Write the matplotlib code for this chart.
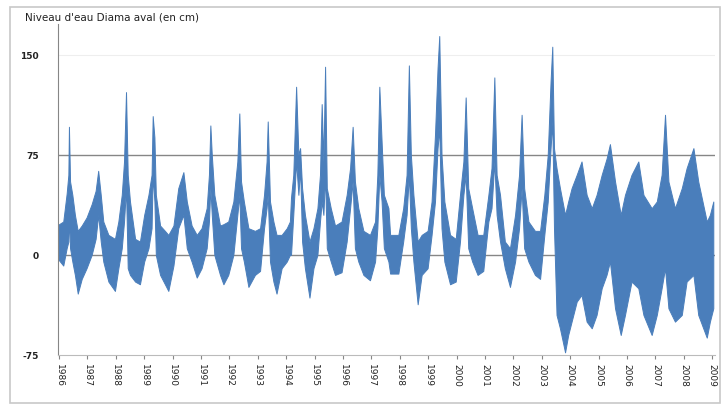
import matplotlib.pyplot as plt
from matplotlib.patches import Rectangle

# decimal year, lower and upper edge of the daily band (cm)
t = [1986.00, 1986.15, 1986.27, 1986.33, 1986.35, 1986.39, 1986.47, 1986.56, 1986.66, 1986.80,
     1986.97, 1987.15, 1987.29, 1987.38, 1987.47, 1987.56, 1987.74, 1987.97, 1988.09, 1988.21,
     1988.29, 1988.36, 1988.42, 1988.50, 1988.68, 1988.85, 1989.00, 1989.15, 1989.26, 1989.30,
     1989.36, 1989.41, 1989.56, 1989.73, 1989.85, 1990.03, 1990.20, 1990.38, 1990.50, 1990.67,
     1990.85, 1991.02, 1991.20, 1991.28, 1991.33, 1991.38, 1991.47, 1991.67, 1991.79, 1991.96,
     1992.14, 1992.28, 1992.35, 1992.41, 1992.51, 1992.67, 1992.90, 1993.08, 1993.22, 1993.31,
     1993.35, 1993.43, 1993.55, 1993.66, 1993.84, 1994.02, 1994.13, 1994.17, 1994.25, 1994.35,
     1994.43, 1994.49, 1994.56, 1994.66, 1994.82, 1994.96, 1995.10, 1995.19, 1995.25, 1995.31,
     1995.37, 1995.43, 1995.57, 1995.72, 1995.95, 1996.13, 1996.25, 1996.34, 1996.42, 1996.54,
     1996.72, 1996.95, 1997.13, 1997.21, 1997.28, 1997.36, 1997.44, 1997.60, 1997.66, 1997.95,
     1998.12, 1998.24, 1998.32, 1998.39, 1998.48, 1998.63, 1998.77, 1998.98, 1999.12, 1999.24,
     1999.33, 1999.39, 1999.47, 1999.57, 1999.77, 1999.97, 2000.12, 2000.24, 2000.32, 2000.41,
     2000.55, 2000.74, 2000.94, 2001.12, 2001.23, 2001.33, 2001.41, 2001.53, 2001.70, 2001.88,
     2002.06, 2002.20, 2002.29, 2002.38, 2002.53, 2002.76, 2002.94, 2003.09, 2003.21, 2003.31,
     2003.37, 2003.43, 2003.52, 2003.64, 2003.82, 2003.93, 2004.05, 2004.23, 2004.40, 2004.58,
     2004.76, 2004.93, 2005.11, 2005.28, 2005.40, 2005.58, 2005.78, 2005.93, 2006.16, 2006.40,
     2006.58, 2006.87, 2007.05, 2007.22, 2007.34, 2007.46, 2007.69, 2007.93, 2008.10, 2008.34,
     2008.51, 2008.81, 2008.92, 2009.04]
hi = [23, 25, 46, 60, 96, 55, 45, 30, 18, 22,
      28, 38, 48, 63, 45, 25, 15, 12, 25, 45,
      70, 122, 60, 40, 12, 10, 30, 45, 60, 104,
      88, 45, 22, 18, 15, 22, 50, 62, 40, 22,
      15, 20, 35, 60, 97, 75, 45, 22, 23, 25,
      40, 70, 106, 55, 40, 20, 18, 20, 45, 70,
      100, 40, 25, 15, 15, 20, 25, 43, 60, 126,
      75, 80, 50, 30, 10, 20, 35, 60, 113, 70,
      141, 50, 35, 22, 25, 45, 65, 96, 55, 35,
      18, 15, 25, 60, 126, 85, 45, 35, 15, 15,
      35, 60, 142, 75, 45, 10, 15, 18, 40, 90,
      140, 164, 75, 40, 15, 12, 45, 70, 118, 50,
      35, 15, 15, 45, 65, 133, 60, 45, 10, 5,
      30, 60, 105, 50, 25, 18, 18, 45, 75, 130,
      156, 80, 65, 50, 30, 40, 50, 60, 70, 45,
      35, 45, 60, 72, 83, 55, 30, 45, 60, 70,
      45, 35, 40, 60, 105, 55, 35, 50, 65, 80,
      55, 25, 30, 40]
lo = [-4, -8, 5, 10, 30, 5, -5, -15, -29, -18,
      -10, 0, 12, 30, 10, -5, -20, -27, -10, 5,
      25, 50, -10, -15, -20, -22, -5, 5, 20, 60,
      40, 0, -15, -22, -27, -8, 20, 30, 5, -5,
      -17, -10, 5, 25, 50, 30, 0, -15, -22, -15,
      0, 30, 45, 5, -5, -24, -15, -12, 20, 35,
      45, -5, -20, -29, -10, -5, 0, 0, 30, 70,
      45, 65, 10, -10, -32, -10, 0, 25, 40, 30,
      60, 5, -5, -15, -13, 10, 35, 55, 5, -5,
      -15, -19, -5, 20, 60, 40, 5, -5, -14, -14,
      10, 30, 60, 20, -5, -37, -15, -10, 15, 40,
      80, 95, 20, -5, -22, -20, 10, 45, 60, 5,
      -5, -15, -12, 25, 35, 70, 30, 10, -10, -24,
      -5, 20, 50, 5, -5, -15, -18, 15, 40, 80,
      100, 20, -45, -55, -73, -60, -50, -35, -30, -50,
      -55, -45, -25, -15, -5, -40, -60, -45, -20, -25,
      -45, -60, -45, -25, -10, -40, -50, -45, -20, -15,
      -45, -62, -50, -40]

years = list(range(1986, 2010))
yticks = [-75, 0, 75, 150]

blue = "#4a7ebb"
grey = "#868686"

fig = plt.figure(figsize=(7.28, 4.10), dpi=100)
ax = fig.add_axes([58 / 728, 54 / 410, 657 / 728, 331 / 410])

ax.fill_between(t, lo, hi, color=blue, lw=0.7, edgecolor=blue)

ax.set_xlim(1985.965, 2009.1)
ax.set_ylim(-75, 173)
ax.set_yticks(yticks)
ax.set_yticklabels([str(v) for v in yticks], fontsize=6.5, color="#222222", fontweight="bold")
ax.set_xticks(years)
ax.set_xticklabels([str(y) for y in years], rotation=-90, fontsize=6.5, color="#222222")
ax.tick_params(axis="y", length=0, pad=14)
ax.tick_params(axis="x", length=3, color=grey, pad=3)

for v in (0, 75):
    ax.axhline(v, color=grey, lw=1.0, zorder=0)
ax.axhline(150, color="#eeeeee", lw=0.8, zorder=0)

for s in ("top", "right"):
    ax.spines[s].set_visible(False)
ax.spines["left"].set_color(grey)
ax.spines["bottom"].set_color("#bbbbbb")

fig.text(25 / 728, 1 - 18 / 410, "Niveau d'eau Diama aval (en cm)", fontsize=7.5,
         color="#222222", va="center")

fig.patches.append(Rectangle((10 / 728, 6 / 410), 710 / 728, 396 / 410, transform=fig.transFigure,
                             fill=False, edgecolor="#c8c8c8", lw=1.2))

fig.savefig("out.png", dpi=100)
